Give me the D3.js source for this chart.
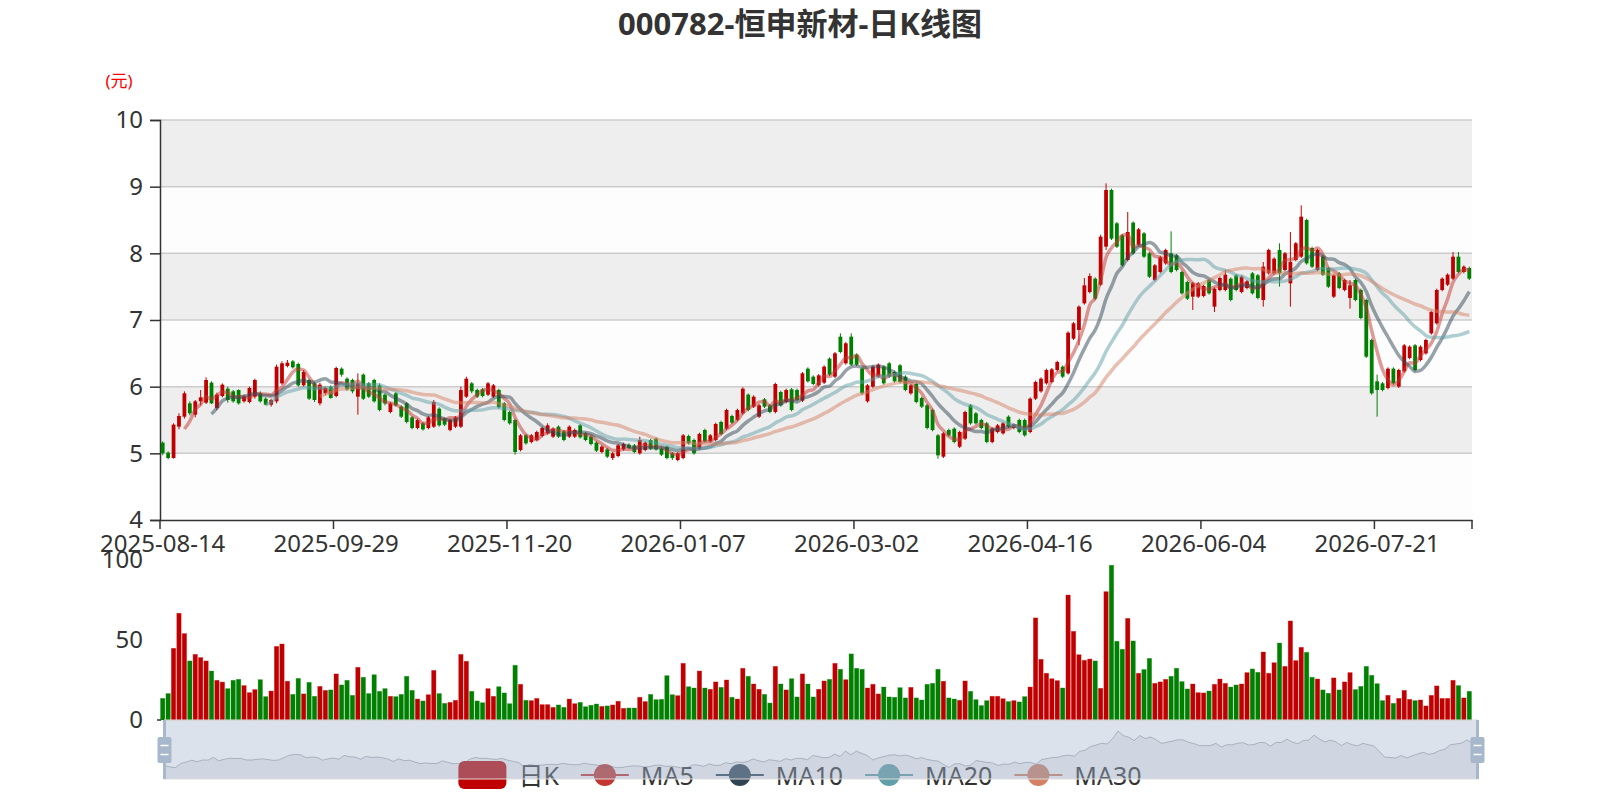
<!DOCTYPE html>
<html>
<head>
<meta charset="utf-8">
<script src="https://cdn.jsdelivr.net/npm/d3@7"></script>
<style>
  body { margin: 0; background: #fff; }
  svg { display: block; }
  text { font-family: "Noto Sans", "Noto Sans CJK SC", sans-serif; }
</style>
</head>
<body>
<svg id="chart" width="1600" height="800"></svg>
<script>
// daily candles (yuan)
const opens = [
  5.16,5.01,4.93,5.40,5.55,5.75,5.58,5.78,5.76,6.06,5.68,5.86,5.97,5.93,5.95,5.78,5.77,5.85,5.90,5.82,
  5.73,5.78,6.05,6.31,6.38,6.34,6.02,6.10,6.05,5.75,5.90,6.00,5.86,6.27,6.12,6.10,5.85,6.18,6.05,6.10,
  6.02,5.88,5.62,5.90,5.70,5.75,5.54,5.38,5.45,5.38,5.40,5.67,5.52,5.35,5.40,5.40,5.85,6.05,5.95,5.96,
  5.88,5.85,5.95,5.75,5.62,5.50,5.05,5.27,5.17,5.20,5.26,5.30,5.25,5.40,5.33,5.25,5.25,5.42,5.30,5.25,
  5.16,5.02,5.06,4.93,4.96,5.06,5.13,5.12,5.00,5.05,5.20,5.22,5.07,5.10,5.00,4.90,4.93,5.26,5.20,5.07,
  5.35,5.18,5.20,5.47,5.37,5.56,5.50,5.60,5.88,5.70,5.55,5.81,5.72,5.62,5.92,5.77,5.96,5.95,5.79,6.27,
  6.15,6.02,6.06,6.42,6.15,6.75,6.35,6.75,6.48,6.27,5.78,6.00,6.15,6.30,6.35,6.22,6.32,6.15,5.90,6.04,
  5.83,5.72,5.65,5.27,4.95,5.35,5.37,5.10,5.22,5.72,5.60,5.50,5.45,5.17,5.32,5.30,5.55,5.38,5.50,5.50,
  5.32,5.82,5.93,6.05,6.07,6.25,6.30,6.20,6.72,6.85,7.25,7.42,7.62,7.53,8.10,8.95,8.45,8.27,7.90,8.46,
  8.13,8.30,8.00,7.60,7.72,7.85,8.00,7.97,7.72,7.57,7.35,7.35,7.36,7.60,7.20,7.45,7.45,7.62,7.67,7.42,
  7.48,7.70,7.67,7.30,7.70,7.70,8.05,7.75,7.55,7.90,7.95,8.50,8.08,7.75,7.95,7.78,7.35,7.70,7.45,7.33,
  7.60,7.45,7.30,6.70,6.08,6.05,5.98,6.27,6.00,6.23,6.43,6.62,6.40,6.50,6.80,6.95,7.45,7.53,7.62,7.95,
  7.72,7.78
];
const closes = [
  5.00,4.93,5.43,5.56,5.90,5.60,5.78,5.84,6.10,5.75,5.88,6.03,5.80,5.78,5.75,5.85,5.98,6.10,5.78,5.73,
  5.80,6.30,6.35,6.36,6.29,6.02,6.22,5.82,5.80,6.03,5.98,5.83,6.28,6.18,5.96,5.93,6.05,5.82,5.85,5.78,
  5.65,5.75,5.75,5.72,5.55,5.47,5.38,5.50,5.36,5.54,5.77,5.42,5.43,5.50,5.54,5.95,6.12,5.93,5.85,5.86,
  6.05,6.02,5.69,5.50,5.45,5.02,5.27,5.15,5.27,5.32,5.38,5.42,5.37,5.25,5.20,5.40,5.35,5.24,5.20,5.14,
  5.04,5.10,4.95,5.00,5.12,5.14,5.08,5.02,5.20,5.16,5.07,5.06,4.98,4.93,4.93,5.00,5.27,5.15,5.00,5.29,
  5.18,5.27,5.44,5.29,5.65,5.46,5.65,5.97,5.65,5.85,5.72,5.70,5.62,6.04,5.72,5.95,5.65,5.80,6.20,6.08,
  6.04,6.17,6.30,6.18,6.50,6.52,6.65,6.33,6.33,5.90,6.02,6.30,6.33,6.05,6.15,6.08,6.07,5.95,6.02,5.77,
  5.70,5.38,5.35,4.97,5.30,5.27,5.17,5.32,5.62,5.45,5.45,5.38,5.17,5.37,5.42,5.45,5.40,5.43,5.32,5.27,
  5.82,6.07,6.12,6.25,6.26,6.37,6.15,6.81,6.95,7.20,7.52,7.66,7.32,8.25,8.95,8.22,8.10,7.82,8.32,8.00,
  8.36,7.95,7.65,7.82,7.94,8.05,7.72,7.75,7.40,7.32,7.55,7.55,7.51,7.40,7.47,7.63,7.68,7.30,7.45,7.65,
  7.58,7.40,7.33,7.80,8.05,7.92,7.70,8.00,7.87,8.15,8.55,7.85,7.80,8.05,7.68,7.50,7.67,7.48,7.60,7.52,
  7.30,7.03,6.45,5.90,5.95,5.95,6.27,6.05,6.25,6.62,6.60,6.25,6.60,6.70,7.12,7.45,7.62,7.68,7.95,7.72,
  7.80,7.62
];
const lows = [
  4.97,4.91,4.92,5.36,5.52,5.57,5.54,5.72,5.74,5.74,5.65,5.84,5.76,5.76,5.73,5.76,5.75,5.82,5.76,5.72,
  5.70,5.75,6.03,6.29,6.27,6.00,6.00,5.80,5.77,5.72,5.87,5.82,5.84,6.15,5.94,5.90,5.58,5.80,5.83,5.76,
  5.63,5.72,5.60,5.70,5.53,5.45,5.36,5.36,5.34,5.36,5.38,5.40,5.41,5.33,5.38,5.38,5.83,5.90,5.83,5.84,
  5.86,5.83,5.67,5.48,5.43,4.98,5.03,5.13,5.15,5.18,5.24,5.28,5.23,5.23,5.18,5.23,5.23,5.22,5.18,5.12,
  5.02,5.00,4.93,4.90,4.94,5.04,5.06,5.00,4.98,5.03,5.05,5.04,4.96,4.91,4.90,4.88,4.91,5.13,4.98,5.05,
  5.16,5.16,5.18,5.27,5.35,5.44,5.48,5.58,5.63,5.68,5.53,5.68,5.60,5.60,5.70,5.75,5.63,5.78,5.77,6.06,
  6.02,6.00,6.04,6.16,6.13,6.50,6.33,6.31,6.31,5.88,5.76,5.98,6.13,6.03,6.13,6.06,6.05,5.93,5.88,5.75,
  5.68,5.36,5.33,4.92,4.93,5.25,5.15,5.08,5.20,5.43,5.43,5.36,5.15,5.15,5.30,5.28,5.38,5.36,5.30,5.25,
  5.30,5.80,5.91,6.03,6.05,6.23,6.13,6.18,6.70,6.62,7.23,7.40,7.30,7.51,8.05,8.20,8.08,7.80,7.88,7.98,
  8.11,7.93,7.63,7.58,7.70,7.83,7.70,7.73,7.38,7.30,7.15,7.33,7.34,7.38,7.12,7.43,7.43,7.28,7.43,7.40,
  7.46,7.38,7.31,7.20,7.68,7.68,7.50,7.73,7.20,7.88,7.93,7.83,7.78,7.73,7.66,7.48,7.33,7.46,7.43,7.17,
  7.28,7.01,6.43,5.88,5.55,5.93,5.96,6.03,5.98,6.21,6.41,6.23,6.38,6.48,6.78,6.93,7.43,7.51,7.60,7.70,
  7.70,7.60
];
const highs = [
  5.18,5.03,5.45,5.60,5.93,5.78,5.80,5.95,6.14,6.08,5.91,6.05,6.00,5.95,5.96,5.88,6.00,6.12,5.93,5.84,
  5.82,6.33,6.38,6.40,6.40,6.36,6.25,6.12,6.07,6.06,6.00,6.02,6.30,6.29,6.14,6.12,6.20,6.20,6.07,6.12,
  6.05,5.90,5.77,5.92,5.72,5.77,5.56,5.52,5.47,5.56,5.80,5.69,5.54,5.52,5.56,6.00,6.15,6.07,5.97,5.98,
  6.07,6.04,5.97,5.77,5.64,5.52,5.29,5.29,5.29,5.34,5.40,5.45,5.39,5.42,5.35,5.42,5.37,5.44,5.32,5.27,
  5.18,5.12,5.08,5.02,5.14,5.16,5.15,5.14,5.25,5.18,5.22,5.24,5.09,5.12,5.02,5.02,5.29,5.28,5.22,5.31,
  5.37,5.29,5.46,5.49,5.67,5.58,5.67,5.99,5.90,5.87,5.74,5.83,5.74,6.06,5.94,5.97,5.98,5.97,6.22,6.29,
  6.17,6.19,6.32,6.44,6.52,6.80,6.67,6.80,6.50,6.29,6.04,6.32,6.35,6.32,6.37,6.24,6.34,6.17,6.04,6.06,
  5.85,5.74,5.67,5.29,5.32,5.37,5.39,5.34,5.64,5.74,5.62,5.52,5.47,5.39,5.44,5.47,5.57,5.45,5.52,5.52,
  5.84,6.09,6.14,6.27,6.28,6.39,6.32,6.83,6.97,7.22,7.63,7.70,7.64,8.28,9.05,8.97,8.47,8.29,8.62,8.48,
  8.38,8.32,8.02,7.84,7.96,8.07,8.33,7.99,7.74,7.59,7.57,7.57,7.53,7.62,7.49,7.65,7.75,7.64,7.69,7.67,
  7.60,7.72,7.69,7.87,8.07,7.94,8.15,8.02,8.32,8.17,8.72,8.52,8.10,8.07,7.97,7.80,7.69,7.72,7.62,7.60,
  7.62,7.47,7.32,6.72,6.18,6.07,6.29,6.29,6.27,6.64,6.62,6.64,6.62,6.72,7.14,7.47,7.64,7.70,8.02,8.02,
  7.82,7.80
];
// traded volume per day (万手)
const volumes = [
  13.5,16.5,44.8,66.7,54.0,36.9,41.0,39.0,36.9,30.6,24.8,23.7,19.6,24.8,25.4,21.5,17.1,19.0,25.2,14.6,
  18.1,46.0,47.5,24.2,16.0,26.0,16.3,23.5,14.8,21.0,18.5,18.8,28.8,21.9,24.8,15.4,32.9,26.7,16.5,28.3,
  17.9,19.6,14.8,14.6,16.0,27.3,18.5,13.1,11.9,15.8,31.0,16.5,10.4,11.0,12.3,41.0,36.7,17.9,11.9,10.8,
  19.6,14.8,20.8,16.9,10.2,34.2,22.3,12.3,12.1,13.5,9.6,9.6,7.9,9.4,7.9,13.1,10.2,11.0,8.3,9.2,
  10.0,8.5,8.8,9.4,11.7,7.3,7.5,7.5,14.2,11.5,16.0,12.7,12.9,27.7,15.8,15.2,35.4,20.8,20.0,30.6,
  20.0,19.2,23.8,20.4,25.0,14.2,13.1,32.3,27.3,22.5,19.2,16.0,10.6,33.5,22.5,18.8,25.8,14.4,28.8,22.5,
  14.4,19.2,24.4,25.4,35.4,31.7,25.2,41.3,32.3,31.7,20.0,22.3,16.3,20.6,14.4,14.2,20.2,13.8,20.4,13.8,
  12.5,22.3,22.9,31.7,24.2,13.8,13.1,12.3,24.4,17.9,12.7,9.0,12.1,14.8,14.8,13.3,11.5,12.1,11.3,14.6,
  20.6,63.8,37.9,29.2,25.8,24.6,20.0,78.1,55.4,40.8,37.3,38.1,36.9,19.8,80.2,96.7,49.2,44.2,63.5,49.4,
  29.2,31.5,38.5,22.9,23.8,25.4,27.3,32.3,24.0,19.4,22.5,17.1,16.9,18.1,22.3,25.6,22.9,20.6,21.9,22.5,
  29.6,31.9,29.8,42.5,29.2,35.8,48.1,33.5,61.9,37.1,45.4,42.3,26.7,25.6,18.8,16.7,26.3,18.8,23.8,29.6,
  19.0,21.0,33.5,27.9,22.7,12.1,15.4,10.4,13.5,18.5,12.9,12.1,12.5,8.8,15.4,21.3,13.5,13.5,24.8,21.5,
  13.8,17.9
];

// exchange closures, used to build the trading-day axis
const holidays = [
  "2025-10-01","2025-10-02","2025-10-03","2025-10-06","2025-10-07","2025-10-08",
  "2026-01-01","2026-01-02","2026-02-16","2026-02-17","2026-02-18","2026-02-19","2026-02-20",
  "2026-02-23","2026-04-06","2026-05-01","2026-05-04","2026-05-05","2026-06-19"
];
const priceTicks = [4, 5, 6, 7, 8, 9, 10];
const volTicks = [0, 50, 100];
const maPeriods = [5, 10, 20, 30];
const maNames = ["MA5", "MA10", "MA20", "MA30"];
const maColors = ["#c23531", "#2f4554", "#61a0a8", "#d48265"];
const upColor = "#c00000";
const downColor = "#008000";

function tradingDays(start, count) {
  const out = [];
  const d = new Date(start + "T00:00:00Z");
  while (out.length < count) {
    const s = d.toISOString().slice(0, 10);
    const w = d.getUTCDay();
    if (w !== 0 && w !== 6 && !holidays.includes(s)) out.push(s);
    d.setUTCDate(d.getUTCDate() + 1);
  }
  return out;
}

const N = closes.length;
const dates = tradingDays("2025-08-14", N);
const idx = d3.range(N);
const labelIdx = d3.range(0, N, 32);

const svg = d3.select("#chart");

// scales
const x = d3.scaleBand().domain(idx).range([160, 1472]);
const bw = x.bandwidth();
const cx = i => x(i) + bw / 2;
const y = d3.scaleLinear().domain([4, 10]).range([520, 120]);
const yv = d3.scaleLinear().domain([0, 100]).range([720, 560]);
const isUp = i => closes[i] >= opens[i];
const col = i => isUp(i) ? upColor : downColor;

// title and unit
svg.append("text")
  .attr("x", 800).attr("y", 23)
  .attr("text-anchor", "middle").attr("dominant-baseline", "central")
  .style("font-size", "31px").style("font-weight", "bold").attr("fill", "#333")
  .text("000782-恒申新材-日K线图");

svg.append("text")
  .attr("x", 119).attr("y", 80)
  .attr("text-anchor", "middle").attr("dominant-baseline", "central")
  .style("font-size", "17px").attr("fill", "red")
  .text("(元)");

// split areas and split lines
const bands = d3.pairs(priceTicks);
svg.append("g").selectAll("rect")
  .data(bands)
  .join("rect")
  .attr("x", 160).attr("width", 1312)
  .attr("y", d => y(d[1])).attr("height", d => y(d[0]) - y(d[1]))
  .attr("fill", (d, i) => i % 2 === 0 ? "#fdfdfd" : "#eeeeee");

svg.append("g").selectAll("line")
  .data(priceTicks.slice(1))
  .join("line")
  .attr("x1", 160).attr("x2", 1472)
  .attr("y1", d => y(d)).attr("y2", d => y(d))
  .attr("stroke", "#ccc").attr("stroke-width", 1.5);

// price axis
const yAxis = svg.append("g")
  .attr("transform", "translate(160,0)")
  .call(d3.axisLeft(y).tickValues(priceTicks).tickFormat(d3.format("d")).tickSize(10).tickPadding(7));
yAxis.select(".domain").attr("stroke", "#333").attr("stroke-width", 1.5);
yAxis.selectAll(".tick line").attr("stroke", "#333").attr("stroke-width", 1.5);
yAxis.selectAll(".tick text").style("font-size", "24px").attr("fill", "#333");

// time axis: labels sit on band centres, ticks on band edges
const xAxis = svg.append("g")
  .attr("transform", "translate(0,520)")
  .call(d3.axisBottom(x).tickValues(labelIdx).tickFormat(i => dates[i]).tickSize(0).tickPadding(15));
xAxis.select(".domain").attr("stroke", "#333").attr("stroke-width", 1.5);
xAxis.selectAll(".tick text").style("font-size", "24px").attr("fill", "#333");
svg.append("g").selectAll("line")
  .data(labelIdx.map(i => x(i)).concat([1472]))
  .join("line")
  .attr("x1", d => d).attr("x2", d => d)
  .attr("y1", 520).attr("y2", 529)
  .attr("stroke", "#333").attr("stroke-width", 1.5);

// candles
const candles = svg.append("g");
candles.selectAll("line")
  .data(idx)
  .join("line")
  .attr("x1", cx).attr("x2", cx)
  .attr("y1", i => y(highs[i])).attr("y2", i => y(lows[i]))
  .attr("stroke", col).attr("stroke-width", 1);
candles.selectAll("rect")
  .data(idx)
  .join("rect")
  .attr("x", i => cx(i) - bw * 0.35)
  .attr("width", bw * 0.7)
  .attr("y", i => y(Math.max(opens[i], closes[i])))
  .attr("height", i => Math.max(1, Math.abs(y(opens[i]) - y(closes[i]))))
  .attr("fill", col);

// moving averages
function movingAverage(n) {
  return closes.map((c, i) => i < n - 1 ? null : d3.mean(closes.slice(i - n + 1, i + 1)));
}
const maLine = d3.line()
  .defined(d => d != null)
  .x((d, i) => cx(i))
  .y(d => y(d))
  .curve(d3.curveMonotoneX);
svg.append("g").selectAll("path")
  .data(maPeriods.map(movingAverage))
  .join("path")
  .attr("d", maLine)
  .attr("fill", "none")
  .attr("stroke", (d, i) => maColors[i])
  .attr("stroke-width", 3.5)
  .attr("stroke-opacity", 0.5);

// volume
svg.append("g").selectAll("rect")
  .data(idx)
  .join("rect")
  .attr("x", i => cx(i) - bw * 0.4)
  .attr("width", bw * 0.8)
  .attr("y", i => yv(volumes[i]))
  .attr("height", i => yv(0) - yv(volumes[i]))
  .attr("fill", col)
  .attr("stroke", col).attr("stroke-opacity", 0.4).attr("stroke-width", 0.8);

const vAxis = svg.append("g")
  .attr("transform", "translate(160,0)")
  .call(d3.axisLeft(yv).tickValues(volTicks).tickFormat(d3.format("d")).tickSize(0).tickPadding(17));
vAxis.select(".domain").remove();
vAxis.selectAll(".tick text").style("font-size", "24px").attr("fill", "#333");
svg.append("line")
  .attr("x1", 157).attr("x2", 161).attr("y1", yv(0)).attr("y2", yv(0))
  .attr("stroke", "#333").attr("stroke-width", 1.5);

// legend, drawn under the zoom slider
const legendItems = ["日K"].concat(maNames);
const legend = svg.append("g");
let lx = 0;
legendItems.forEach((name, k) => {
  const item = legend.append("g").attr("transform", `translate(${lx},0)`);
  if (k === 0) {
    item.append("rect")
      .attr("x", 0).attr("y", -14).attr("width", 48).attr("height", 28).attr("rx", 6)
      .attr("fill", upColor);
  } else {
    item.append("line")
      .attr("x1", 0).attr("x2", 48).attr("y1", 0).attr("y2", 0)
      .attr("stroke", maColors[k - 1]).attr("stroke-width", 2);
    item.append("circle")
      .attr("cx", 24).attr("cy", 0).attr("r", 11)
      .attr("fill", maColors[k - 1]);
  }
  const t = item.append("text")
    .attr("x", 60).attr("y", 0).attr("dominant-baseline", "central")
    .style("font-size", "25px").attr("fill", "#333")
    .text(name);
  lx += 60 + t.node().getComputedTextLength() + 22;
});
legend.attr("transform", `translate(${800 - (lx - 22) / 2},775)`);

// zoom slider with data shadow
const sx = d3.scaleLinear().domain([0, N - 1]).range([164.5, 1477.5]);
const [omin, omax] = d3.extent(opens);
const pad = (omax - omin) * 0.3;
const sy = d3.scaleLinear().domain([omin - pad, omax + pad]).range([779, 720]);
const slider = svg.append("g");
slider.append("path")
  .datum(opens)
  .attr("d", d3.area().x((d, i) => sx(i)).y0(779).y1(d => sy(d)))
  .attr("fill", "rgba(47,69,84,0.1)");
slider.append("path")
  .datum(opens)
  .attr("d", d3.line().x((d, i) => sx(i)).y(d => sy(d)))
  .attr("fill", "none")
  .attr("stroke", "rgba(47,69,84,0.4)").attr("stroke-width", 1);
slider.append("rect")
  .attr("x", 164.5).attr("y", 720).attr("width", 1313).attr("height", 59)
  .attr("fill", "rgba(167,183,204,0.4)")
  .attr("stroke", "#ddd").attr("stroke-width", 1);

[164.5, 1477.5].forEach(hx => {
  slider.append("rect")
    .attr("x", hx - 1.5).attr("y", 720).attr("width", 3).attr("height", 59)
    .attr("fill", "#a7b7cc");
  slider.append("rect")
    .attr("x", hx - 7).attr("y", 737).attr("width", 14).attr("height", 26).attr("rx", 2)
    .attr("fill", "#a7b7cc");
  [745.5, 754.5].forEach(hy => {
    slider.append("line")
      .attr("x1", hx - 4).attr("x2", hx + 4).attr("y1", hy).attr("y2", hy)
      .attr("stroke", "#fff").attr("stroke-width", 1.5);
  });
});
</script>
</body>
</html>
